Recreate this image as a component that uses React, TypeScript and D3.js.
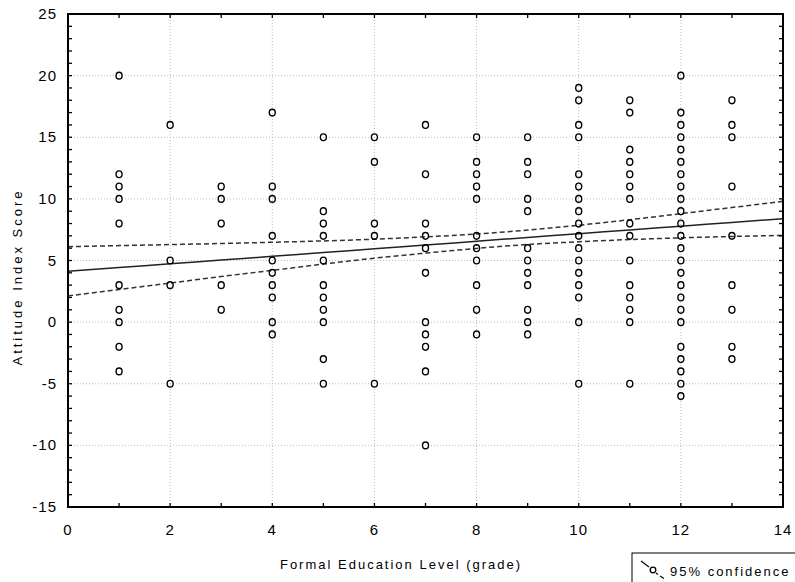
import React from "react";
import * as d3 from "d3";

// ---- data ----
const grades = [1, 2, 3, 4, 5, 6, 7, 8, 9, 10, 11, 12, 13];
const scoresByGrade: number[][] = [
  [20, 12, 11, 10, 8, 3, 1, 0, -2, -4],
  [16, 5, 3, -5],
  [11, 10, 8, 3, 1],
  [17, 11, 10, 7, 5, 4, 3, 2, 0, -1],
  [15, 9, 8, 7, 5, 3, 2, 1, 0, -3, -5],
  [15, 13, 8, 7, -5],
  [16, 12, 8, 7, 6, 4, 0, -1, -2, -4, -10],
  [15, 13, 12, 11, 10, 7, 6, 5, 3, 1, -1],
  [15, 13, 12, 10, 9, 6, 5, 4, 3, 1, 0, -1],
  [19, 18, 16, 15, 12, 11, 10, 9, 8, 7, 6, 5, 4, 3, 2, 0, -5],
  [18, 17, 14, 13, 12, 11, 10, 8, 7, 5, 3, 2, 1, 0, -5],
  [20, 17, 16, 15, 14, 13, 12, 11, 10, 9, 8, 7, 6, 5, 4, 3, 2, 1, 0, -2, -3, -4, -5, -6],
  [18, 16, 15, 11, 7, 3, 1, -2, -3],
];

// regression line and 95% confidence band
const bandX = [0, 1, 2, 3, 4, 5, 6, 7, 8, 9, 10, 11, 12, 13, 14];
const fitY = [4.12, 4.43, 4.73, 5.04, 5.34, 5.65, 5.95, 6.26, 6.56, 6.87, 7.17, 7.48, 7.78, 8.09, 8.39];
const upperY = [6.12, 6.21, 6.29, 6.38, 6.48, 6.59, 6.73, 6.92, 7.15, 7.47, 7.86, 8.31, 8.8, 9.3, 9.8];
const lowerY = [2.12, 2.65, 3.17, 3.7, 4.2, 4.71, 5.19, 5.6, 5.98, 6.3, 6.52, 6.7, 6.84, 6.95, 7.04];

const xMajorTicks = [0, 2, 4, 6, 8, 10, 12, 14];
const yMajorTicks = [-15, -10, -5, 0, 5, 10, 15, 20, 25];

const xTitle = "Formal Education Level (grade)";
const yTitle = "Attitude Index Score";
const legendLabel = "95% confidence";

const W = 795;
const H = 582;
const L = 68, R = 783, T = 14, B = 507;

export default function App() {
  const x = d3.scaleLinear().domain([0, 14]).range([L, R]);
  const y = d3.scaleLinear().domain([-15, 25]).range([B, T]);

  const xMinor = d3.range(0, 15, 1);
  const yMinor = d3.range(-15, 26, 1);

  const line = d3
    .line<[number, number]>()
    .x((d) => x(d[0]))
    .y((d) => y(d[1]))
    .curve(d3.curveMonotoneX);

  const fitPath = line(bandX.map((v, i) => [v, fitY[i]]) as [number, number][]) || "";
  const upPath = line(bandX.map((v, i) => [v, upperY[i]]) as [number, number][]) || "";
  const loPath = line(bandX.map((v, i) => [v, lowerY[i]]) as [number, number][]) || "";

  const points: { gx: number; s: number }[] = [];
  grades.forEach((g, i) => scoresByGrade[i].forEach((s) => points.push({ gx: g, s })));

  const font = "'Liberation Sans', Arial, sans-serif";
  const tick = 4;

  return (
    <svg
      width={W}
      height={H}
      style={{ position: "absolute", left: 0, top: 0, background: "#fff" }}
      fontFamily={font}
    >
      <rect x={0} y={0} width={W} height={H} fill="#fff" />
      {/* grid */}
      {xMajorTicks.filter((v) => v > 0 && v < 14).map((v) => (
        <line key={"gx" + v} x1={x(v)} x2={x(v)} y1={T} y2={B} stroke="#bdbdbd" strokeWidth={1} strokeDasharray="1,2" />
      ))}
      {yMajorTicks.filter((v) => v > -15 && v < 25).map((v) => (
        <line key={"gy" + v} x1={L} x2={R} y1={y(v)} y2={y(v)} stroke="#bdbdbd" strokeWidth={1} strokeDasharray="1,2" />
      ))}

      {/* regression + CI */}
      <path d={upPath} fill="none" stroke="#333" strokeWidth={1.5} strokeDasharray="5,3" />
      <path d={loPath} fill="none" stroke="#333" strokeWidth={1.5} strokeDasharray="5,3" />
      <path d={fitPath} fill="none" stroke="#222" strokeWidth={1.5} />

      {/* points */}
      {points.map((p, i) => (
        <ellipse key={i} cx={x(p.gx)} cy={y(p.s)} rx={3} ry={3.4} fill="none" stroke="#000" strokeWidth={1.4} />
      ))}

      {/* ticks */}
      {xMinor.map((v) => (
        <g key={"tx" + v}>
          <line x1={x(v)} x2={x(v)} y1={B} y2={B - tick} stroke="#000" strokeWidth={1.3} />
          <line x1={x(v)} x2={x(v)} y1={T} y2={T + tick} stroke="#000" strokeWidth={1.3} />
        </g>
      ))}
      {yMinor.map((v) => (
        <g key={"ty" + v}>
          <line x1={L} x2={L + tick} y1={y(v)} y2={y(v)} stroke="#000" strokeWidth={1.3} />
          <line x1={R} x2={R - tick} y1={y(v)} y2={y(v)} stroke="#000" strokeWidth={1.3} />
        </g>
      ))}

      {/* frame */}
      <rect x={L} y={T} width={R - L} height={B - T} fill="none" stroke="#000" strokeWidth={2} />

      {/* tick labels */}
      {xMajorTicks.map((v) => (
        <text key={"lx" + v} x={x(v)} y={535} fontSize={15} textAnchor="middle" letterSpacing={1} fill="#000">
          {v}
        </text>
      ))}
      {yMajorTicks.map((v) => (
        <text key={"ly" + v} x={57} y={y(v) + 5} fontSize={15} textAnchor="end" letterSpacing={1} fill="#000">
          {v}
        </text>
      ))}

      {/* titles */}
      <text x={401} y={569} fontSize={13} textAnchor="middle" letterSpacing={2} fill="#000">
        {xTitle}
      </text>
      <text
        transform={`translate(22,277) rotate(-90)`}
        fontSize={13}
        textAnchor="middle"
        letterSpacing={3}
        fill="#000"
      >
        {yTitle}
      </text>

      {/* legend */}
      <rect x={632} y={553} width={200} height={40} fill="#fff" stroke="#000" strokeWidth={1} />
      <line x1={641} y1={561} x2={649} y2={567} stroke="#000" strokeWidth={1.2} />
      <circle cx={653} cy={570} r={2.8} fill="none" stroke="#000" strokeWidth={1.3} />
      <line x1={656} y1={573} x2={658} y2={574.5} stroke="#000" strokeWidth={1.2} />
      <line x1={660} y1={576} x2={664} y2={578.5} stroke="#000" strokeWidth={1.2} />
      <text x={670} y={576} fontSize={13} letterSpacing={2} fill="#000">
        {legendLabel}
      </text>
    </svg>
  );
}
